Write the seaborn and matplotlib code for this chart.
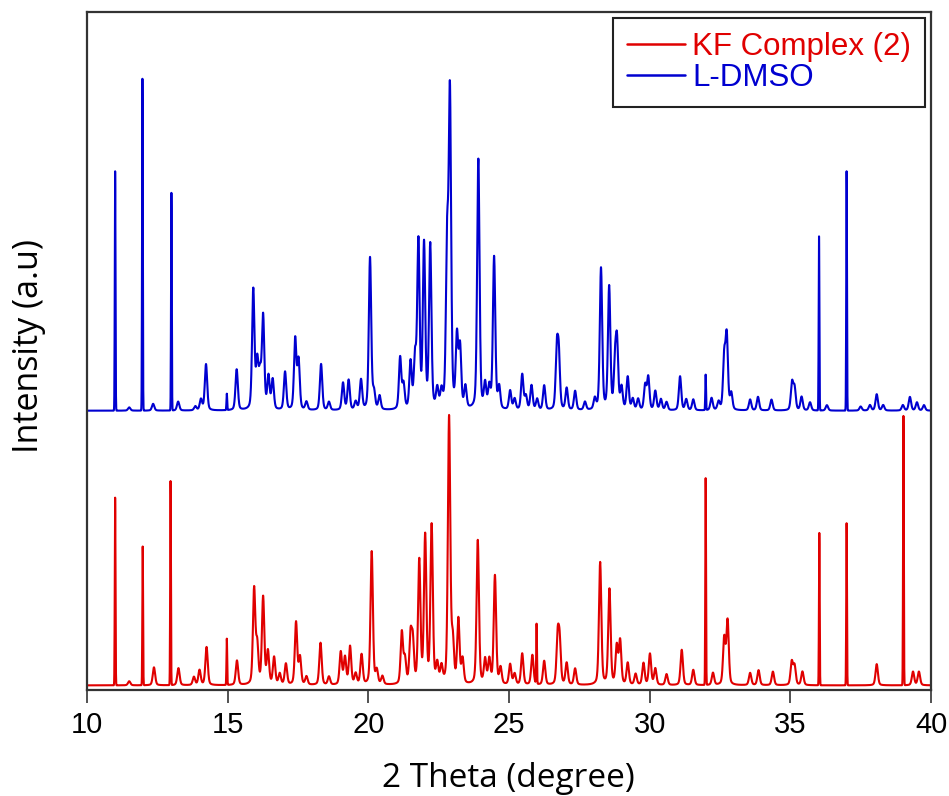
import numpy as np
import pandas as pd
import seaborn as sns
import matplotlib.pyplot as plt
from matplotlib.lines import Line2D

# ---------------- data ----------------
# L-DMSO (blue) peak list: position (2theta), height (a.u.), shape (s = sharp spike, n = normal)
dmso_pos = [11.00, 11.50, 11.97, 12.35, 13.00, 13.24, 13.85, 14.05, 14.23, 14.97, 15.32,
            15.91, 16.05, 16.15, 16.26, 16.45, 16.60, 17.04, 17.40, 17.52, 17.80, 18.32,
            18.60, 19.10, 19.30, 19.55, 19.74, 20.06, 20.20, 20.40, 21.13, 21.25, 21.50,
            21.66, 21.78, 21.98, 22.20, 22.45, 22.60, 22.80, 22.90, 23.15, 23.26, 23.45,
            23.91, 24.15, 24.30, 24.47, 24.65, 25.04, 25.20, 25.47, 25.60, 25.80, 26.00,
            26.25, 26.70, 26.77, 27.05, 27.35, 27.70, 28.05, 28.27, 28.56, 28.77, 28.84,
            29.00, 29.22, 29.40, 29.59, 29.84, 29.95, 30.20, 30.40, 30.60, 31.08, 31.30,
            31.55, 31.99, 32.20, 32.45, 32.65, 32.74, 32.90, 33.57, 33.85, 34.33, 35.06,
            35.15, 35.40, 35.70, 36.02, 36.30, 37.00, 37.50, 37.83, 38.07, 38.30, 39.00,
            39.25, 39.50, 39.75]
dmso_hgt = [88, 1.2, 122, 2.5, 80, 3.3, 1.5, 4, 17, 6, 15,
            44, 17, 12, 34, 12, 11, 14, 26, 18, 3, 17,
            3, 10, 11, 3, 11, 56, 6, 5, 19, 9, 17,
            18, 61, 60, 60, 7, 6, 58, 114, 26, 22, 8,
            92, 9, 8, 56, 8, 7, 4, 13, 5, 9, 4,
            9, 21, 19, 8, 7, 3, 4, 52, 45, 16, 23,
            8, 12, 4, 4, 9, 12, 7, 4, 3, 12.5, 4,
            4, 13, 4.5, 3, 19, 26.5, 6, 4, 5, 4, 10,
            8, 5, 3, 64, 2, 88, 1.5, 2, 6, 2, 2,
            5, 3, 2]
dmso_shape = ['s', 'n', 's', 'n', 's', 'n', 'n', 'n', 'n', 's', 'n',
              'n', 'n', 'n', 'n', 'n', 'n', 'n', 'n', 'n', 'n', 'n',
              'n', 'n', 'n', 'n', 'n', 'n', 'n', 'n', 'n', 'n', 'n',
              'n', 'n', 'n', 'n', 'n', 'n', 'n', 'n', 'n', 'n', 'n',
              'n', 'n', 'n', 'n', 'n', 'n', 'n', 'n', 'n', 'n', 'n',
              'n', 'n', 'n', 'n', 'n', 'n', 'n', 'n', 'n', 'n', 'n',
              'n', 'n', 'n', 'n', 'n', 'n', 'n', 'n', 'n', 'n', 'n',
              'n', 's', 'n', 'n', 'n', 'n', 'n', 'n', 'n', 'n', 'n',
              'n', 'n', 'n', 's', 'n', 's', 'n', 'n', 'n', 'n', 'n',
              'n', 'n', 'n']

# KF Complex (2) (red) peak list
kf_pos = [11.00, 11.50, 11.98, 12.38, 12.97, 13.25, 13.80, 14.00, 14.25, 14.97, 15.33,
          15.94, 16.05, 16.26, 16.43, 16.65, 16.85, 17.07, 17.43, 17.57, 17.80, 18.30,
          18.60, 19.02, 19.17, 19.35, 19.55, 19.76, 20.12, 20.30, 20.50, 21.19, 21.30,
          21.50, 21.58, 21.81, 22.02, 22.25, 22.45, 22.60, 22.87, 23.00, 23.20, 23.35,
          23.89, 24.15, 24.30, 24.50, 24.70, 25.04, 25.20, 25.47, 25.83, 25.98, 26.25,
          26.73, 26.80, 27.05, 27.35, 28.24, 28.57, 28.83, 28.95, 29.22, 29.50, 29.78,
          30.01, 30.20, 30.60, 31.14, 31.55, 31.99, 32.25, 32.65, 32.77, 33.57, 33.87,
          34.38, 35.05, 35.15, 35.43, 36.03, 37.00, 38.07, 39.02, 39.36, 39.57]
kf_hgt = [69, 1.5, 51, 6.6, 75, 6.3, 3, 5.5, 14, 17, 9,
          35, 14, 32, 12, 10, 4, 7.7, 23, 10, 3, 15.5,
          3, 12, 10, 14, 4, 11, 49, 5, 3, 19, 9,
          17, 15, 45, 54, 58, 7, 6, 98, 15, 23.5, 9,
          53, 9, 9, 40, 6, 7.5, 4, 11.5, 11, 22, 8.8,
          17, 15, 8, 6, 45, 35, 14, 16, 8, 4, 8,
          11.4, 6, 4, 13, 5.6, 76, 4.5, 17, 23.5, 4.5, 5.5,
          5, 8.5, 7, 5, 56, 59.6, 7.8, 99, 5, 5]
kf_shape = ['s', 'n', 's', 'n', 's', 'n', 'n', 'n', 'n', 's', 'n',
            'n', 'n', 'n', 'n', 'n', 'n', 'n', 'n', 'n', 'n', 'n',
            'n', 'n', 'n', 'n', 'n', 'n', 'n', 'n', 'n', 'n', 'n',
            'n', 'n', 'n', 'n', 'n', 'n', 'n', 'n', 'n', 'n', 'n',
            'n', 'n', 'n', 'n', 'n', 'n', 'n', 'n', 'n', 's', 'n',
            'n', 'n', 'n', 'n', 'n', 'n', 'n', 'n', 'n', 'n', 'n',
            'n', 'n', 'n', 'n', 'n', 's', 'n', 'n', 'n', 'n', 'n',
            'n', 'n', 'n', 'n', 's', 's', 'n', 's', 'n', 'n']

series_names = ['KF Complex (2)', 'L-DMSO']
series_offsets = [0, 101]
x_ticks = [10, 15, 20, 25, 30, 35, 40]

# ---------------- build traces from the peak lists ----------------
FWHM = {'s': 0.03, 'n': 0.10}
LORENTZ_FRAC = {'s': 0.0, 'n': 0.35}
tt = np.arange(10.0, 40.0001, 0.005)


def trace(pos, hgt, shape, offset):
    y = np.full_like(tt, 0.6)
    for p, h, s in zip(pos, hgt, shape):
        w = FWHM[s]
        eta = LORENTZ_FRAC[s]
        g = np.exp(-4 * np.log(2) * (tt - p) ** 2 / w ** 2)
        lz = 1.0 / (1.0 + 4 * (tt - p) ** 2 / w ** 2)
        y += h * (eta * lz + (1 - eta) * g)
    return y + offset


df_kf = pd.DataFrame({'2theta': tt, 'I': trace(kf_pos, kf_hgt, kf_shape, series_offsets[0]),
                      'sample': series_names[0]})
df_dm = pd.DataFrame({'2theta': tt, 'I': trace(dmso_pos, dmso_hgt, dmso_shape, series_offsets[1]),
                      'sample': series_names[1]})

RED = '#e00000'
BLUE = '#0000d0'

sns.set_theme(style='white')
plt.rcParams['font.family'] = ['Liberation Sans', 'DejaVu Sans']

fig = plt.figure(figsize=(9.49, 7.96), dpi=100)
ax = fig.add_axes([87 / 949, 1 - 690 / 796, 844 / 949, 678 / 796])

sns.lineplot(data=df_dm, x='2theta', y='I', color=BLUE, lw=1.5, ax=ax,
             estimator=None, sort=False, legend=False)
sns.lineplot(data=df_kf, x='2theta', y='I', color=RED, lw=1.5, ax=ax,
             estimator=None, sort=False, legend=False)

ax.set_xlim(10, 40)
ax.set_ylim(-1.1, 248.2)
ax.set_xticks(x_ticks)
ax.set_xticklabels([str(t) for t in x_ticks])
ax.set_yticks([])
ax.tick_params(axis='x', direction='out', length=9, width=1.2, color='#333333',
               labelsize=21, pad=6, bottom=True, labelcolor='black')
for lab in ax.get_xticklabels():
    lab.set_family(['Liberation Sans', 'DejaVu Sans'])

for sp in ax.spines.values():
    sp.set_visible(True)
    sp.set_color('#333333')
    sp.set_linewidth(1.6)

ax.set_xlabel('2 Theta (degree)', fontsize=24, family=['Open Sans', 'DejaVu Sans'], color='black')
ax.set_ylabel('Intensity (a.u)', fontsize=24.5, family=['Open Sans', 'DejaVu Sans'], color='black')
ax.xaxis.set_label_coords(0.499, -0.106)
ax.yaxis.set_label_coords(-0.048, 0.507)

handles = [Line2D([], [], color=RED, lw=1.8), Line2D([], [], color=BLUE, lw=1.8)]
leg = ax.legend(handles, series_names, loc='upper right', fontsize=22.5,
                labelcolor=[RED, BLUE], frameon=True, fancybox=False, shadow=False,
                framealpha=1, edgecolor='#222222', borderpad=0.45, labelspacing=0.05,
                handlelength=1.85, handletextpad=0.25, borderaxespad=0.18)
leg.get_frame().set_linewidth(1.5)

fig.savefig('out.png', dpi=100)
